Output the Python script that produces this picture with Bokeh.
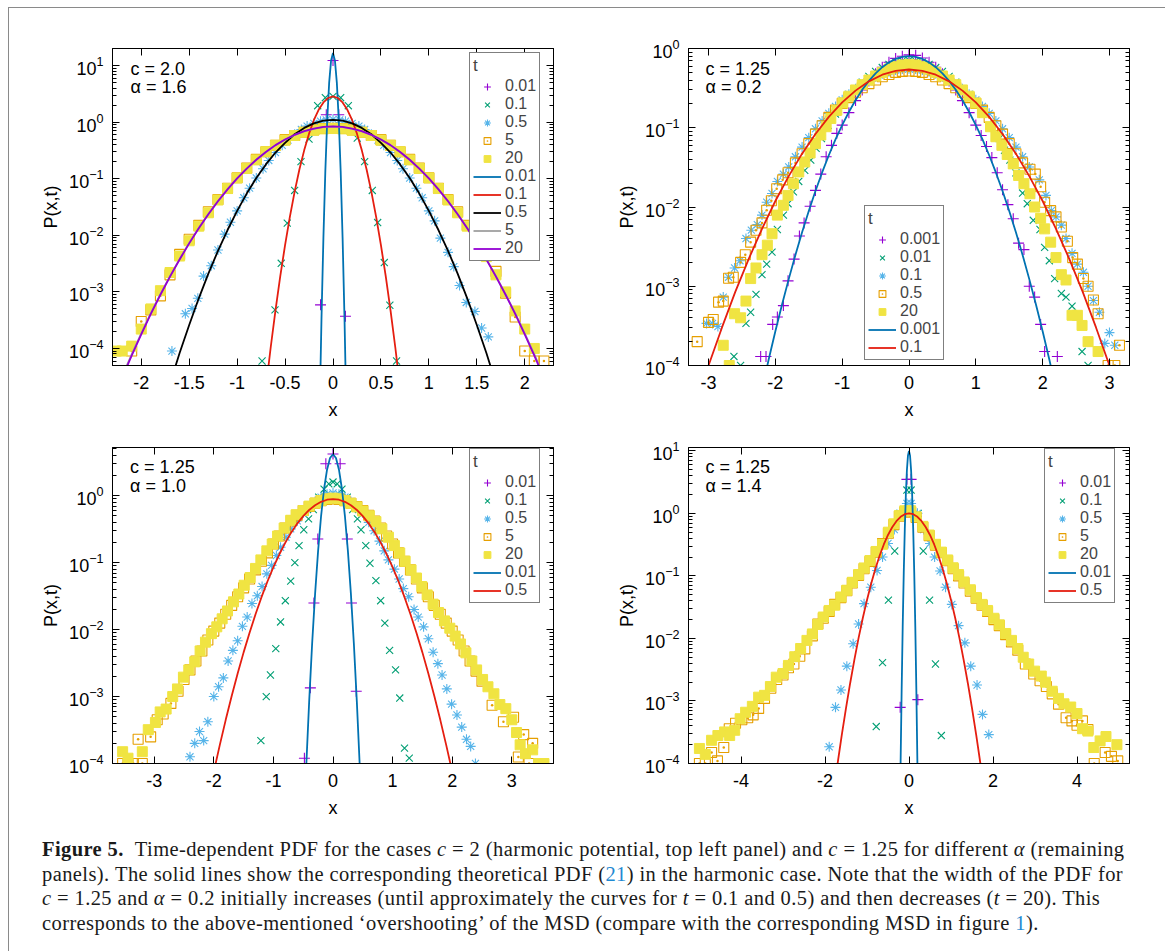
import math
from bokeh.plotting import figure
from bokeh.layouts import column, row
from bokeh.models import (Range1d, FixedTicker, LinearAxis, LogAxis, Legend, LegendItem,
                          Label, Div, CustomJSTickFormatter)
from bokeh.embed import file_html
from bokeh.resources import INLINE

# ---------------------------------------------------------------- tick data
tl_xticks = [-2, -1.5, -1, -0.5, 0, 0.5, 1, 1.5, 2]
tl_xlabels = ["-2", "-1.5", "-1", "-0.5", "0", "0.5", "1", "1.5", "2"]
tr_xticks = [-3, -2, -1, 0, 1, 2, 3]
tr_xlabels = ["-3", "-2", "-1", "0", "1", "2", "3"]
bl_xticks = [-3, -2, -1, 0, 1, 2, 3]
bl_xlabels = ["-3", "-2", "-1", "0", "1", "2", "3"]
br_xticks = [-4, -2, 0, 2, 4]
br_xlabels = ["-4", "-2", "0", "2", "4"]
tl_yticks = [1e-4, 1e-3, 1e-2, 1e-1, 1, 10]
tr_yticks = [1e-4, 1e-3, 1e-2, 1e-1, 1]
bl_yticks = [1e-4, 1e-3, 1e-2, 1e-1, 1]
br_yticks = [1e-4, 1e-3, 1e-2, 1e-1, 1, 10]

# ---------------------------------------------------------------- top left: c = 2.0, alpha = 1.6
tl_t001 = [(-0.13, 5.9e-4), (-0.07, 1.35), (0.0, 12.3), (0.06, 1.35), (0.13, 3.7e-4)]
tl_t01 = [(-0.74, 6.0e-5), (-0.605, 4.8e-4), (-0.54, 3.2e-3), (-0.477, 0.0164), (-0.40, 0.062),
          (-0.334, 0.20), (-0.25, 0.50), (-0.16, 1.95), (-0.08, 2.7), (0.0, 2.85), (0.08, 2.7),
          (0.16, 1.95), (0.253, 0.52), (0.33, 0.20), (0.41, 0.062), (0.466, 0.0168),
          (0.535, 3.3e-3), (0.593, 5.8e-4), (0.663, 6.0e-5)]
tl_t05 = [(-1.68, 9e-5), (-1.54, 4.1e-4), (-1.47, 5.1e-4), (-1.41, 7.7e-4), (-1.35, 1.9e-3),
          (-1.27, 2.9e-3), (-1.20, 5.5e-3), (-1.13, 0.0105), (-1.07, 0.017), (-1.0, 0.027),
          (-0.93, 0.046), (-0.87, 0.068), (-0.8, 0.103), (-0.73, 0.150), (-0.67, 0.21),
          (-0.6, 0.29), (-0.53, 0.39), (-0.47, 0.48), (-0.4, 0.61), (-0.33, 0.74), (-0.27, 0.85),
          (-0.2, 0.95), (-0.13, 1.04), (-0.07, 1.09), (0.0, 1.12), (0.07, 1.09), (0.13, 1.04),
          (0.2, 0.95), (0.27, 0.85), (0.33, 0.74), (0.4, 0.61), (0.47, 0.48), (0.53, 0.39),
          (0.6, 0.29), (0.67, 0.21), (0.73, 0.150), (0.8, 0.103), (0.87, 0.068), (0.93, 0.046),
          (1.0, 0.027), (1.06, 0.018), (1.12, 8.9e-3), (1.2, 5.0e-3), (1.26, 2.8e-3),
          (1.32, 1.3e-3), (1.39, 6.5e-4), (1.48, 4.5e-4), (1.55, 2.3e-4), (1.62, 1.6e-4)]
tl_t5 = [(-2.1, 9e-5), (-2.0, 3.0e-4), (-1.9, 4.8e-4), (-1.8, 8.5e-4), (-1.7, 2.0e-3),
         (-1.6, 4.6e-3), (-1.5, 8.5e-3), (-1.4, 0.0150), (-1.3, 0.026), (-1.2, 0.043),
         (-1.1, 0.068), (-1.0, 0.104), (-0.9, 0.154), (-0.8, 0.22), (-0.7, 0.30), (-0.6, 0.39),
         (-0.5, 0.49), (-0.4, 0.58), (-0.3, 0.66), (-0.2, 0.73), (-0.1, 0.77), (0.0, 0.78),
         (0.1, 0.77), (0.2, 0.73), (0.3, 0.66), (0.4, 0.58), (0.5, 0.49), (0.6, 0.39), (0.7, 0.30),
         (0.8, 0.22), (0.9, 0.154), (1.0, 0.104), (1.1, 0.068), (1.2, 0.043), (1.3, 0.026),
         (1.4, 0.0150), (1.5, 8.5e-3), (1.6, 4.4e-3), (1.7, 2.3e-3), (1.8, 9.5e-4), (1.9, 3.6e-4),
         (2.0, 9e-5), (2.1, 6e-5), (2.2, 6e-5)]
tl_t20 = [(-2.26, 9e-5), (-2.2, 9e-5), (-2.1, 1.1e-4), (-2.0, 2.2e-4), (-1.9, 5.0e-4),
          (-1.8, 1.05e-3), (-1.7, 2.2e-3), (-1.6, 4.3e-3), (-1.5, 8.0e-3), (-1.4, 0.0145),
          (-1.3, 0.025), (-1.2, 0.042), (-1.1, 0.067), (-1.0, 0.103), (-0.9, 0.152), (-0.8, 0.215),
          (-0.7, 0.30), (-0.6, 0.39), (-0.5, 0.48), (-0.4, 0.58), (-0.3, 0.66), (-0.2, 0.72),
          (-0.1, 0.76), (0.0, 0.77), (0.1, 0.76), (0.2, 0.72), (0.3, 0.66), (0.4, 0.58), (0.5, 0.48),
          (0.6, 0.39), (0.7, 0.30), (0.8, 0.215), (0.9, 0.152), (1.0, 0.103), (1.1, 0.067),
          (1.2, 0.042), (1.3, 0.025), (1.4, 0.0145), (1.5, 8.0e-3), (1.6, 4.2e-3), (1.7, 2.0e-3),
          (1.8, 1.0e-3), (1.9, 4.6e-4), (2.0, 2.2e-4), (2.1, 1.0e-4)]
tl_f001 = [(-0.14, 6.8e-6), (-0.12, 3.4e-4), (-0.10, 9.1e-3), (-0.08, 0.136), (-0.06, 1.11),
           (-0.04, 4.99), (-0.02, 12.3), (0.0, 16.6), (0.02, 12.3), (0.04, 4.99), (0.06, 1.11),
           (0.08, 0.136), (0.10, 9.1e-3), (0.12, 3.4e-4), (0.14, 6.8e-6)]
tl_f01 = [(-0.7, 2.0e-5), (-0.65, 1.04e-4), (-0.6, 4.7e-4), (-0.55, 1.89e-3), (-0.5, 6.7e-3),
          (-0.45, 0.0212), (-0.4, 0.059), (-0.35, 0.147), (-0.3, 0.32), (-0.25, 0.626),
          (-0.2, 1.08), (-0.15, 1.65), (-0.1, 2.23), (-0.05, 2.67), (0.0, 2.84), (0.05, 2.67),
          (0.1, 2.23), (0.15, 1.65), (0.2, 1.08), (0.25, 0.626), (0.3, 0.32), (0.35, 0.147),
          (0.4, 0.059), (0.45, 0.0212), (0.5, 6.7e-3), (0.55, 1.89e-3), (0.6, 4.7e-4),
          (0.65, 1.04e-4), (0.7, 2.0e-5)]
tl_f05 = [(-1.8, 6.7e-6), (-1.7, 2.4e-5), (-1.6, 8.3e-5), (-1.5, 2.6e-4), (-1.4, 7.7e-4),
          (-1.3, 2.1e-3), (-1.2, 5.3e-3), (-1.1, 0.0124), (-1.0, 0.027), (-0.9, 0.0546),
          (-0.8, 0.103), (-0.7, 0.179), (-0.6, 0.29), (-0.5, 0.43), (-0.4, 0.61), (-0.3, 0.79),
          (-0.2, 0.95), (-0.1, 1.06), (0.0, 1.10), (0.1, 1.06), (0.2, 0.95), (0.3, 0.79),
          (0.4, 0.61), (0.5, 0.43), (0.6, 0.29), (0.7, 0.179), (0.8, 0.103), (0.9, 0.0546),
          (1.0, 0.027), (1.1, 0.0124), (1.2, 5.3e-3), (1.3, 2.1e-3), (1.4, 7.7e-4), (1.5, 2.6e-4),
          (1.6, 8.3e-5), (1.7, 2.4e-5), (1.8, 6.7e-6)]
tl_f5 = [(-2.3, 1.3e-5), (-2.2, 3.2e-5), (-2.1, 7.9e-5), (-2.0, 1.85e-4), (-1.9, 4.2e-4),
         (-1.8, 9.1e-4), (-1.7, 1.9e-3), (-1.6, 3.8e-3), (-1.5, 7.3e-3), (-1.4, 0.0135),
         (-1.3, 0.0238), (-1.2, 0.0402), (-1.1, 0.0652), (-1.0, 0.101), (-0.9, 0.151),
         (-0.8, 0.216), (-0.7, 0.296), (-0.6, 0.39), (-0.5, 0.49), (-0.4, 0.593), (-0.3, 0.686),
         (-0.2, 0.762), (-0.1, 0.813), (0.0, 0.83), (0.1, 0.813), (0.2, 0.762), (0.3, 0.686),
         (0.4, 0.593), (0.5, 0.49), (0.6, 0.39), (0.7, 0.296), (0.8, 0.216), (0.9, 0.151),
         (1.0, 0.101), (1.1, 0.0652), (1.2, 0.0402), (1.3, 0.0238), (1.4, 0.0135), (1.5, 7.3e-3),
         (1.6, 3.8e-3), (1.7, 1.9e-3), (1.8, 9.1e-4), (1.9, 4.2e-4), (2.0, 1.85e-4),
         (2.1, 7.9e-5), (2.2, 3.2e-5), (2.3, 1.3e-5)]
tl_f20 = [(-2.3, 1.17e-5), (-2.2, 3.0e-5), (-2.1, 7.5e-5), (-2.0, 1.78e-4), (-1.9, 4.1e-4),
          (-1.8, 8.9e-4), (-1.7, 1.86e-3), (-1.6, 3.74e-3), (-1.5, 7.2e-3), (-1.4, 0.0133),
          (-1.3, 0.0236), (-1.2, 0.0399), (-1.1, 0.0649), (-1.0, 0.101), (-0.9, 0.151),
          (-0.8, 0.216), (-0.7, 0.297), (-0.6, 0.392), (-0.5, 0.493), (-0.4, 0.597), (-0.3, 0.692),
          (-0.2, 0.769), (-0.1, 0.821), (0.0, 0.838), (0.1, 0.821), (0.2, 0.769), (0.3, 0.692),
          (0.4, 0.597), (0.5, 0.493), (0.6, 0.392), (0.7, 0.297), (0.8, 0.216), (0.9, 0.151),
          (1.0, 0.101), (1.1, 0.0649), (1.2, 0.0399), (1.3, 0.0236), (1.4, 0.0133), (1.5, 7.2e-3),
          (1.6, 3.74e-3), (1.7, 1.86e-3), (1.8, 8.9e-4), (1.9, 4.1e-4), (2.0, 1.78e-4),
          (2.1, 7.5e-5), (2.2, 3.0e-5), (2.3, 1.17e-5)]

# ---------------------------------------------------------------- top right: c = 1.25, alpha = 0.2
tr_t0001 = [(-2.22, 1.3e-4), (-2.14, 1.3e-4), (-2.04, 3.3e-4), (-1.97, 4.1e-4), (-1.88, 5.7e-4),
            (-1.81, 1.17e-3), (-1.72, 2.2e-3), (-1.64, 4.3e-3), (-1.57, 6.3e-3), (-1.48, 0.0102),
            (-1.40, 0.0162), (-1.32, 0.026), (-1.24, 0.043), (-1.16, 0.060), (-1.08, 0.085),
            (-1.0, 0.108), (-0.9, 0.155), (-0.8, 0.22), (-0.7, 0.30), (-0.6, 0.39), (-0.5, 0.48),
            (-0.4, 0.58), (-0.3, 0.67), (-0.2, 0.75), (-0.1, 0.80), (0.0, 0.83), (0.1, 0.82),
            (0.2, 0.76), (0.3, 0.67), (0.4, 0.58), (0.5, 0.48), (0.6, 0.39), (0.7, 0.30),
            (0.8, 0.22), (0.9, 0.155), (1.0, 0.108), (1.08, 0.080), (1.16, 0.058), (1.24, 0.042),
            (1.32, 0.027), (1.40, 0.0165), (1.48, 0.0107), (1.56, 7.1e-3), (1.64, 3.5e-3),
            (1.72, 2.9e-3), (1.80, 1.0e-3), (1.88, 7.3e-4), (1.97, 3.3e-4), (2.03, 1.5e-4),
            (2.22, 1.3e-4)]
tr_t001 = [(-2.62, 1.3e-4), (-2.52, 1.0e-4), (-2.44, 3.4e-4), (-2.37, 4.7e-4), (-2.29, 7.9e-4),
           (-2.20, 1.4e-3), (-2.13, 1.9e-3), (-2.05, 2.7e-3), (-1.97, 5.2e-3), (-1.88, 7.9e-3),
           (-1.81, 0.011), (-1.73, 0.0155), (-1.65, 0.021), (-1.56, 0.029), (-1.47, 0.039),
           (-1.39, 0.055), (-1.31, 0.073), (-1.21, 0.107), (-1.1, 0.149), (-1.0, 0.195),
           (-0.9, 0.249), (-0.8, 0.31), (-0.7, 0.377), (-0.6, 0.445), (-0.5, 0.513), (-0.4, 0.575),
           (-0.3, 0.63), (-0.2, 0.673), (-0.1, 0.698), (0.0, 0.71), (0.1, 0.698), (0.2, 0.673),
           (0.3, 0.63), (0.4, 0.575), (0.5, 0.513), (0.6, 0.445), (0.7, 0.377), (0.8, 0.31),
           (0.9, 0.249), (1.0, 0.195), (1.1, 0.149), (1.2, 0.107), (1.35, 0.073), (1.43, 0.052),
           (1.51, 0.039), (1.60, 0.027), (1.70, 0.015), (1.77, 0.011), (1.86, 6.8e-3),
           (1.96, 5.2e-3), (2.03, 3.1e-3), (2.10, 2.1e-3), (2.18, 1.25e-3), (2.28, 8.1e-4),
           (2.35, 7.3e-4), (2.44, 5.6e-4), (2.59, 1.5e-4), (2.68, 1.0e-4)]
tr_t01 = [(-3.03, 3.4e-4), (-2.94, 3.4e-4), (-2.86, 3.1e-4), (-2.78, 7.3e-4), (-2.70, 1.3e-3),
          (-2.61, 1.7e-3), (-2.53, 2.1e-3), (-2.44, 4.0e-3), (-2.36, 5.1e-3), (-2.27, 6.0e-3),
          (-2.20, 7.9e-3), (-2.13, 0.0115), (-2.05, 0.0148), (-1.97, 0.021), (-1.88, 0.026),
          (-1.8, 0.032), (-1.7, 0.043), (-1.6, 0.057), (-1.5, 0.075), (-1.4, 0.097), (-1.3, 0.122),
          (-1.2, 0.152), (-1.1, 0.186), (-1.0, 0.225), (-0.9, 0.265), (-0.8, 0.31), (-0.7, 0.355),
          (-0.6, 0.40), (-0.5, 0.44), (-0.4, 0.48), (-0.3, 0.51), (-0.2, 0.535), (-0.1, 0.55),
          (0.0, 0.555), (0.1, 0.55), (0.2, 0.535), (0.3, 0.51), (0.4, 0.48), (0.5, 0.44),
          (0.6, 0.40), (0.7, 0.355), (0.8, 0.31), (0.9, 0.265), (1.0, 0.225), (1.1, 0.186),
          (1.2, 0.152), (1.3, 0.122), (1.4, 0.097), (1.5, 0.075), (1.6, 0.057), (1.7, 0.043),
          (1.8, 0.032), (1.95, 0.022), (2.05, 0.014), (2.13, 9.0e-3), (2.20, 7.5e-3),
          (2.28, 5.9e-3), (2.35, 4.0e-3), (2.44, 2.6e-3), (2.52, 1.9e-3), (2.61, 1.5e-3),
          (2.68, 1.0e-3), (2.76, 6.6e-4), (2.85, 4.7e-4), (2.93, 1.9e-4), (3.0, 2.6e-4),
          (3.08, 1.8e-4)]
tr_t05 = [(-3.17, 2.0e-4), (-3.0, 3.5e-4), (-2.93, 3.8e-4), (-2.85, 6.3e-4), (-2.78, 6.5e-4),
          (-2.70, 1.26e-3), (-2.63, 1.3e-3), (-2.52, 2.0e-3), (-2.45, 2.5e-3), (-2.37, 3.6e-3),
          (-2.29, 5.1e-3), (-2.20, 6.3e-3), (-2.13, 9.1e-3), (-2.06, 0.012), (-1.98, 0.017),
          (-1.89, 0.022), (-1.81, 0.027), (-1.7, 0.036), (-1.6, 0.047), (-1.5, 0.063),
          (-1.4, 0.083), (-1.3, 0.106), (-1.2, 0.135), (-1.1, 0.167), (-1.0, 0.203), (-0.9, 0.24),
          (-0.8, 0.28), (-0.7, 0.32), (-0.6, 0.36), (-0.5, 0.40), (-0.4, 0.44), (-0.3, 0.47),
          (-0.2, 0.50), (-0.1, 0.515), (0.0, 0.52), (0.1, 0.515), (0.2, 0.50), (0.3, 0.47),
          (0.4, 0.44), (0.5, 0.40), (0.6, 0.36), (0.7, 0.32), (0.8, 0.28), (0.9, 0.24),
          (1.0, 0.203), (1.1, 0.167), (1.2, 0.135), (1.3, 0.106), (1.4, 0.083), (1.5, 0.063),
          (1.6, 0.047), (1.7, 0.036), (1.81, 0.030), (1.89, 0.026), (1.97, 0.018), (2.03, 0.0115),
          (2.12, 9.0e-3), (2.20, 7.5e-3), (2.28, 5.6e-3), (2.37, 3.7e-3), (2.45, 2.3e-3),
          (2.52, 1.9e-3), (2.61, 1.25e-3), (2.68, 1.0e-3), (2.76, 6.7e-4), (2.83, 4.5e-4),
          (2.98, 1.0e-4), (3.08, 1.0e-4), (3.15, 1.8e-4)]
tr_t20 = [(-2.78, 1.8e-4), (-2.69, 1.0e-4), (-2.61, 4.5e-4), (-2.52, 4.0e-4), (-2.44, 6.5e-4),
          (-2.37, 1.25e-3), (-2.29, 1.7e-3), (-2.20, 2.5e-3), (-2.12, 3.3e-3), (-2.05, 4.6e-3),
          (-1.97, 7.9e-3), (-1.88, 0.0105), (-1.81, 0.014), (-1.73, 0.0196), (-1.65, 0.0277),
          (-1.56, 0.037), (-1.48, 0.048), (-1.40, 0.063), (-1.32, 0.081), (-1.24, 0.103),
          (-1.17, 0.131), (-1.08, 0.166), (-0.99, 0.206), (-0.9, 0.25), (-0.8, 0.30), (-0.7, 0.35),
          (-0.6, 0.40), (-0.5, 0.45), (-0.4, 0.50), (-0.3, 0.55), (-0.2, 0.59), (-0.1, 0.62),
          (0.0, 0.63), (0.1, 0.62), (0.2, 0.59), (0.3, 0.55), (0.4, 0.50), (0.5, 0.45),
          (0.6, 0.40), (0.7, 0.35), (0.8, 0.30), (0.9, 0.25), (1.0, 0.205), (1.1, 0.155),
          (1.22, 0.103), (1.3, 0.077), (1.39, 0.060), (1.47, 0.046), (1.56, 0.035), (1.64, 0.025),
          (1.72, 0.0197), (1.81, 0.0147), (1.88, 0.010), (1.97, 7.2e-3), (2.03, 5.3e-3),
          (2.12, 3.6e-3), (2.20, 2.3e-3), (2.28, 1.4e-3), (2.35, 1.2e-3), (2.44, 4.3e-4),
          (2.52, 4.3e-4), (2.59, 3.2e-4), (2.68, 2.0e-4), (2.83, 1.5e-4)]
tr_f0001 = [(-2.2, 5.0e-5), (-2.1, 1.19e-4), (-2.0, 2.7e-4), (-1.9, 5.9e-4), (-1.8, 1.23e-3),
            (-1.7, 2.48e-3), (-1.6, 4.8e-3), (-1.5, 8.9e-3), (-1.4, 0.0159), (-1.3, 0.0273),
            (-1.2, 0.045), (-1.1, 0.0713), (-1.0, 0.108), (-0.9, 0.158), (-0.8, 0.222),
            (-0.7, 0.301), (-0.6, 0.390), (-0.5, 0.485), (-0.4, 0.581), (-0.3, 0.668),
            (-0.2, 0.738), (-0.1, 0.783), (0.0, 0.80), (0.1, 0.783), (0.2, 0.738), (0.3, 0.668),
            (0.4, 0.581), (0.5, 0.485), (0.6, 0.390), (0.7, 0.301), (0.8, 0.222), (0.9, 0.158),
            (1.0, 0.108), (1.1, 0.0713), (1.2, 0.045), (1.3, 0.0273), (1.4, 0.0159), (1.5, 8.9e-3),
            (1.6, 4.8e-3), (1.7, 2.48e-3), (1.8, 1.23e-3), (1.9, 5.9e-4), (2.0, 2.7e-4),
            (2.1, 1.19e-4), (2.2, 5.0e-5)]
tr_f01 = [(-3.2, 3.1e-5), (-3.0, 1.0e-4), (-2.8, 3.0e-4), (-2.6, 8.5e-4), (-2.4, 2.2e-3),
          (-2.2, 5.3e-3), (-2.0, 0.0119), (-1.8, 0.0245), (-1.6, 0.0471), (-1.4, 0.0835),
          (-1.2, 0.137), (-1.0, 0.209), (-0.8, 0.294), (-0.6, 0.385), (-0.4, 0.467), (-0.2, 0.523),
          (0.0, 0.543), (0.2, 0.523), (0.4, 0.467), (0.6, 0.385), (0.8, 0.294), (1.0, 0.209),
          (1.2, 0.137), (1.4, 0.0835), (1.6, 0.0471), (1.8, 0.0245), (2.0, 0.0119), (2.2, 5.3e-3),
          (2.4, 2.2e-3), (2.6, 8.5e-4), (2.8, 3.0e-4), (3.0, 1.0e-4), (3.2, 3.1e-5)]

# ---------------------------------------------------------------- bottom left: c = 1.25, alpha = 1.0
bl_t001 = [(-0.48, 1.2e-4), (-0.38, 1.35e-3), (-0.32, 0.025), (-0.255, 0.226), (-0.12, 3.0),
           (0.0, 4.2), (0.12, 3.0), (0.24, 0.226), (0.31, 0.025), (0.39, 1.2e-3)]
bl_t01 = [(-1.21, 2.2e-4), (-1.12, 1.0e-3), (-1.05, 2.1e-3), (-0.96, 5.2e-3), (-0.88, 0.013),
          (-0.80, 0.027), (-0.71, 0.053), (-0.64, 0.10), (-0.57, 0.18), (-0.49, 0.31),
          (-0.41, 0.45), (-0.33, 0.62), (-0.24, 0.95), (-0.15, 1.25), (-0.07, 1.5), (0.0, 1.6),
          (0.07, 1.5), (0.15, 1.25), (0.24, 0.95), (0.33, 0.62), (0.41, 0.45), (0.47, 0.31),
          (0.55, 0.18), (0.62, 0.098), (0.72, 0.054), (0.80, 0.027), (0.87, 0.0125),
          (0.95, 4.9e-3), (1.05, 2.5e-3), (1.12, 9.5e-4), (1.20, 1.7e-4), (1.28, 1.2e-4)]
bl_t05 = [(-2.4, 1.26e-4), (-2.32, 2.0e-4), (-2.24, 3.0e-4), (-2.17, 2.2e-4), (-2.1, 4.2e-4),
          (-2.0, 1.0e-3), (-1.92, 1.4e-3), (-1.84, 1.9e-3), (-1.76, 3.4e-3), (-1.68, 4.9e-3),
          (-1.6, 6.8e-3), (-1.52, 0.0112), (-1.44, 0.0154), (-1.36, 0.0245), (-1.27, 0.032),
          (-1.19, 0.044), (-1.11, 0.068), (-1.03, 0.091), (-0.95, 0.128), (-0.88, 0.17),
          (-0.79, 0.24), (-0.71, 0.32), (-0.6, 0.42), (-0.5, 0.55), (-0.4, 0.68), (-0.3, 0.82),
          (-0.2, 0.95), (-0.1, 1.05), (0.0, 1.1), (0.1, 1.05), (0.2, 0.95), (0.3, 0.82),
          (0.4, 0.68), (0.5, 0.55), (0.6, 0.40), (0.69, 0.30), (0.78, 0.21), (0.86, 0.15),
          (0.93, 0.11), (1.03, 0.08), (1.11, 0.057), (1.18, 0.041), (1.27, 0.031), (1.36, 0.020),
          (1.43, 0.0154), (1.52, 0.011), (1.6, 7.3e-3), (1.68, 4.6e-3), (1.76, 3.1e-3),
          (1.83, 2.1e-3), (1.91, 1.3e-3), (1.99, 7.7e-4), (2.08, 5.3e-4), (2.16, 3.5e-4),
          (2.24, 2.3e-4), (2.31, 1.8e-4), (2.39, 1.0e-4)]
bl_t5 = [(-3.53, 1.0e-4), (-3.44, 1.0e-4), (-3.35, 1.0e-4), (-3.27, 2.3e-4), (-3.2, 1.0e-4),
         (-3.06, 2.5e-4), (-2.95, 4.5e-4), (-2.85, 5.5e-4), (-2.72, 7.9e-4), (-2.6, 1.2e-3),
         (-2.5, 1.8e-3), (-2.4, 2.5e-3), (-2.3, 3.4e-3), (-2.2, 4.8e-3), (-2.1, 7.0e-3),
         (-2.0, 9.5e-3), (-1.9, 0.0125), (-1.8, 0.017), (-1.7, 0.023), (-1.6, 0.031),
         (-1.5, 0.042), (-1.4, 0.057), (-1.3, 0.078), (-1.2, 0.105), (-1.1, 0.14), (-1.0, 0.19),
         (-0.9, 0.25), (-0.8, 0.33), (-0.7, 0.42), (-0.6, 0.51), (-0.5, 0.6), (-0.4, 0.69),
         (-0.3, 0.77), (-0.2, 0.84), (-0.1, 0.88), (0.0, 0.9), (0.1, 0.88), (0.2, 0.84),
         (0.3, 0.77), (0.4, 0.69), (0.5, 0.6), (0.6, 0.51), (0.7, 0.42), (0.8, 0.33), (0.9, 0.25),
         (1.0, 0.19), (1.1, 0.14), (1.2, 0.105), (1.3, 0.078), (1.4, 0.057), (1.5, 0.042),
         (1.6, 0.031), (1.7, 0.023), (1.8, 0.017), (1.9, 0.0125), (2.0, 9.5e-3), (2.1, 7.0e-3),
         (2.2, 4.8e-3), (2.3, 3.4e-3), (2.4, 2.4e-3), (2.5, 1.7e-3), (2.67, 7.4e-4),
         (2.86, 4.2e-4), (3.03, 4.9e-4), (3.11, 1.25e-4), (3.2, 2.7e-4), (3.29, 1.0e-4),
         (3.35, 2.0e-4)]
bl_t20 = [(-3.53, 1.5e-4), (-3.44, 1.2e-4), (-3.2, 1.5e-4), (-3.1, 3.2e-4), (-2.98, 4.1e-4),
          (-2.9, 5.9e-4), (-2.8, 6.5e-4), (-2.69, 1.0e-3), (-2.61, 1.3e-3), (-2.51, 1.95e-3),
          (-2.42, 2.5e-3), (-2.32, 3.3e-3), (-2.23, 4.8e-3), (-2.14, 6.5e-3), (-2.04, 8.7e-3),
          (-1.95, 0.011), (-1.86, 0.0145), (-1.77, 0.019), (-1.67, 0.026), (-1.58, 0.034),
          (-1.49, 0.046), (-1.39, 0.06), (-1.3, 0.082), (-1.21, 0.11), (-1.11, 0.15),
          (-1.02, 0.19), (-0.93, 0.25), (-0.82, 0.33), (-0.71, 0.43), (-0.62, 0.52), (-0.5, 0.6),
          (-0.4, 0.7), (-0.3, 0.78), (-0.2, 0.85), (-0.1, 0.9), (0.0, 0.92), (0.1, 0.9),
          (0.2, 0.85), (0.3, 0.77), (0.4, 0.68), (0.5, 0.59), (0.61, 0.5), (0.72, 0.41),
          (0.82, 0.32), (0.93, 0.24), (1.03, 0.18), (1.12, 0.14), (1.21, 0.105), (1.31, 0.078),
          (1.4, 0.059), (1.49, 0.044), (1.58, 0.033), (1.68, 0.024), (1.77, 0.018),
          (1.87, 0.0135), (1.96, 0.0105), (2.05, 8.0e-3), (2.14, 6.1e-3), (2.23, 4.5e-3),
          (2.33, 3.4e-3), (2.41, 2.5e-3), (2.51, 1.8e-3), (2.6, 1.4e-3), (2.7, 1.1e-3),
          (2.8, 7.6e-4), (2.9, 6.6e-4), (3.0, 4.5e-4), (3.08, 2.9e-4), (3.14, 1.9e-4),
          (3.23, 1.4e-4), (3.35, 1.6e-4), (3.45, 1.0e-4), (3.54, 1.0e-4)]
bl_f001 = [(-0.5, 7e-6), (-0.45, 8.7e-5), (-0.4, 8.4e-4), (-0.35, 6.2e-3), (-0.3, 0.0348),
           (-0.25, 0.150), (-0.2, 0.497), (-0.15, 1.26), (-0.1, 2.45), (-0.05, 3.65), (0.0, 4.17),
           (0.05, 3.65), (0.1, 2.45), (0.15, 1.26), (0.2, 0.497), (0.25, 0.150), (0.3, 0.0348),
           (0.35, 6.2e-3), (0.4, 8.4e-4), (0.45, 8.7e-5), (0.5, 7e-6)]
bl_f05 = [(-2.2, 1.05e-5), (-2.1, 2.89e-5), (-2.0, 7.55e-5), (-1.9, 1.88e-4), (-1.8, 4.49e-4),
          (-1.7, 1.02e-3), (-1.6, 2.21e-3), (-1.5, 4.57e-3), (-1.4, 9.0e-3), (-1.3, 0.01697),
          (-1.2, 0.0305), (-1.1, 0.0523), (-1.0, 0.0855), (-0.9, 0.1334), (-0.8, 0.199),
          (-0.7, 0.283), (-0.6, 0.383), (-0.5, 0.496), (-0.4, 0.613), (-0.3, 0.722), (-0.2, 0.811),
          (-0.1, 0.871), (0.0, 0.891), (0.1, 0.871), (0.2, 0.811), (0.3, 0.722), (0.4, 0.613),
          (0.5, 0.496), (0.6, 0.383), (0.7, 0.283), (0.8, 0.199), (0.9, 0.1334), (1.0, 0.0855),
          (1.1, 0.0523), (1.2, 0.0305), (1.3, 0.01697), (1.4, 9.0e-3), (1.5, 4.57e-3),
          (1.6, 2.21e-3), (1.7, 1.02e-3), (1.8, 4.49e-4), (1.9, 1.88e-4), (2.0, 7.55e-5),
          (2.1, 2.89e-5), (2.2, 1.05e-5)]

# ---------------------------------------------------------------- bottom right: c = 1.25, alpha = 1.4
br_t001 = [(-0.21, 7.9e-4), (-0.05, 3.5), (0.05, 3.5), (0.21, 1.05e-3)]
br_t01 = [(-0.78, 3.9e-4), (-0.63, 4.1e-3), (-0.49, 0.041), (-0.34, 0.25), (-0.22, 1.0),
          (-0.05, 2.36), (0.05, 2.36), (0.22, 1.0), (0.34, 0.25), (0.49, 0.041), (0.63, 3.9e-3),
          (0.77, 2.8e-4)]
br_t05 = [(-1.9, 1.85e-4), (-1.75, 7.9e-4), (-1.62, 1.5e-3), (-1.48, 3.6e-3), (-1.33, 8.2e-3),
          (-1.2, 0.017), (-1.07, 0.036), (-0.91, 0.066), (-0.76, 0.122), (-0.63, 0.2),
          (-0.5, 0.33), (-0.35, 0.55), (-0.2, 1.0), (-0.05, 1.44), (0.05, 1.44), (0.2, 1.0),
          (0.35, 0.55), (0.5, 0.33), (0.61, 0.2), (0.74, 0.12), (0.87, 0.066), (1.02, 0.035),
          (1.18, 0.016), (1.33, 8.5e-3), (1.47, 3.6e-3), (1.62, 1.8e-3), (1.75, 6.1e-4),
          (1.9, 2.9e-4)]
br_t5 = [(-4.99, 1.0e-4), (-4.85, 1.0e-4), (-4.7, 1.5e-4), (-4.56, 1.1e-4), (-4.41, 1.8e-4),
         (-4.28, 3.6e-4), (-4.13, 4.4e-4), (-3.98, 5.0e-4), (-3.84, 5.4e-4), (-3.71, 6.0e-4),
         (-3.58, 7.6e-4), (-3.44, 1.1e-3), (-3.29, 1.6e-3), (-3.15, 2.2e-3), (-3.0, 2.6e-3),
         (-2.87, 3.4e-3), (-2.74, 3.9e-3), (-2.6, 5.2e-3), (-2.48, 6.8e-3), (-2.3, 0.011),
         (-2.17, 0.017), (-2.04, 0.021), (-1.9, 0.027), (-1.77, 0.035), (-1.62, 0.045),
         (-1.48, 0.058), (-1.35, 0.077), (-1.2, 0.102), (-1.07, 0.13), (-0.93, 0.17),
         (-0.78, 0.24), (-0.63, 0.33), (-0.49, 0.48), (-0.36, 0.66), (-0.23, 0.9), (-0.1, 1.05),
         (0.04, 1.05), (0.17, 0.86), (0.33, 0.6), (0.48, 0.44), (0.63, 0.31), (0.77, 0.235),
         (0.92, 0.175), (1.05, 0.13), (1.18, 0.1), (1.31, 0.077), (1.46, 0.057), (1.6, 0.044),
         (1.74, 0.034), (1.87, 0.027), (2.02, 0.02), (2.15, 0.016), (2.3, 0.0115), (2.44, 8.8e-3),
         (2.59, 6.5e-3), (2.77, 3.9e-3), (2.97, 2.7e-3), (3.12, 2.1e-3), (3.27, 1.7e-3),
         (3.41, 1.3e-3), (3.56, 8.9e-4), (3.74, 5.4e-4), (3.88, 4.8e-4), (4.0, 4.1e-4),
         (4.13, 4.8e-4), (4.26, 3.5e-4), (4.41, 1.0e-4), (4.67, 1.5e-4), (4.82, 1.3e-4),
         (4.97, 1.1e-4)]
br_t20 = [(-4.99, 1.74e-4), (-4.85, 1.4e-4), (-4.7, 2.35e-4), (-4.55, 2.8e-4), (-4.39, 3.2e-4),
          (-4.27, 2.8e-4), (-4.15, 3.4e-4), (-4.02, 5.2e-4), (-3.89, 6.6e-4), (-3.73, 8.2e-4),
          (-3.58, 1.15e-3), (-3.44, 1.23e-3), (-3.3, 1.7e-3), (-3.16, 2.4e-3), (-3.0, 2.75e-3),
          (-2.87, 3.7e-3), (-2.72, 5.1e-3), (-2.58, 6.9e-3), (-2.43, 9.3e-3), (-2.3, 0.0118),
          (-2.17, 0.0167), (-2.04, 0.022), (-1.9, 0.028), (-1.77, 0.034), (-1.62, 0.046),
          (-1.48, 0.059), (-1.35, 0.079), (-1.2, 0.105), (-1.07, 0.134), (-0.93, 0.176),
          (-0.78, 0.246), (-0.63, 0.32), (-0.49, 0.5), (-0.36, 0.68), (-0.23, 0.92), (-0.1, 1.1),
          (0.04, 1.1), (0.17, 0.88), (0.33, 0.62), (0.48, 0.45), (0.63, 0.32), (0.77, 0.24),
          (0.92, 0.18), (1.05, 0.135), (1.18, 0.105), (1.31, 0.08), (1.46, 0.06), (1.6, 0.045),
          (1.74, 0.035), (1.87, 0.028), (2.02, 0.021), (2.15, 0.0165), (2.3, 0.012),
          (2.44, 9.3e-3), (2.59, 6.9e-3), (2.72, 5.0e-3), (2.85, 3.9e-3), (2.99, 3.0e-3),
          (3.15, 2.5e-3), (3.25, 2.0e-3), (3.41, 1.43e-3), (3.56, 1.1e-3), (3.69, 9.0e-4),
          (3.85, 8.0e-4), (4.0, 6.3e-4), (4.13, 3.6e-4), (4.26, 3.3e-4), (4.4, 1.8e-4),
          (4.55, 2.3e-4), (4.69, 2.7e-4), (4.95, 2.0e-4)]
br_f001 = [(-0.225, 4.7e-6), (-0.2, 1.0e-4), (-0.175, 1.49e-3), (-0.15, 0.0154), (-0.125, 0.111),
           (-0.1, 0.562), (-0.075, 1.98), (-0.05, 4.87), (-0.025, 8.35), (0.0, 10.0),
           (0.025, 8.35), (0.05, 4.87), (0.075, 1.98), (0.1, 0.562), (0.125, 0.111),
           (0.15, 0.0154), (0.175, 1.49e-3), (0.2, 1.0e-4), (0.225, 4.7e-6)]
br_f05 = [(-1.8, 3.3e-5), (-1.7, 1.0e-4), (-1.6, 2.86e-4), (-1.5, 7.7e-4), (-1.4, 1.94e-3),
          (-1.3, 4.58e-3), (-1.2, 0.0102), (-1.1, 0.0212), (-1.0, 0.0413), (-0.9, 0.0757),
          (-0.8, 0.130), (-0.7, 0.210), (-0.6, 0.318), (-0.5, 0.451), (-0.4, 0.600), (-0.3, 0.750),
          (-0.2, 0.880), (-0.1, 0.969), (0.0, 1.0), (0.1, 0.969), (0.2, 0.880), (0.3, 0.750),
          (0.4, 0.600), (0.5, 0.451), (0.6, 0.318), (0.7, 0.210), (0.8, 0.130), (0.9, 0.0757),
          (1.0, 0.0413), (1.1, 0.0212), (1.2, 0.0102), (1.3, 4.58e-3), (1.4, 1.94e-3),
          (1.5, 7.7e-4), (1.6, 2.86e-4), (1.7, 1.0e-4), (1.8, 3.3e-5)]

# ---------------------------------------------------------------- styling
FONT = "Liberation Sans"
FS = "18px"
PURPLE, GREEN, LBLUE = "#9400D3", "#009E73", "#56B4E9"
ORANGE, YELLOW = "#E69F00", "#F0E442"
BLUE, RED, BLACK, GRAY = "#0072B2", "#E51E10", "#000000", "#A0A0A0"

MARKERS = {
    "plus": dict(marker="cross", size=11, line_color=PURPLE, line_width=1.1),
    "x": dict(marker="x", size=10, line_color=GREEN, line_width=1.1),
    "star": dict(marker="asterisk", size=10, line_color=LBLUE, line_width=1.1),
    "boxdot": dict(marker="square_dot", size=10, line_color=ORANGE, fill_color=None, line_width=1.1),
    "box": dict(marker="square", size=10, line_color=YELLOW, fill_color=YELLOW),
}


def xy(pairs):
    return [a for a, _ in pairs], [b for _, b in pairs]


def minor_list(lo_exp, hi_exp):
    return [k * 10.0 ** e for e in range(lo_exp, hi_exp) for k in range(2, 10)]


def style_axis(ax, labels=True):
    ax.major_tick_in = 7
    ax.major_tick_out = 0
    ax.minor_tick_in = 4
    ax.minor_tick_out = 0
    ax.axis_line_color = "black"
    ax.major_tick_line_color = "black"
    ax.minor_tick_line_color = "black"
    ax.major_label_text_font = FONT
    ax.major_label_text_color = "black"
    ax.axis_label_text_font = FONT
    ax.axis_label_text_font_size = FS
    ax.axis_label_text_font_style = "normal"
    ax.axis_label_text_color = "black"
    if labels:
        ax.major_label_text_font_size = FS
    else:
        ax.major_label_text_font_size = "0px"
        ax.major_label_standoff = 0
        ax.formatter = CustomJSTickFormatter(code="return ''")


def make_panel(xr, yr, xticks, xlabels, yticks, border, frame, scatters, lines,
               legend_loc, tag_c, tag_a, tag_off):
    left, right, top, bottom = border
    fw, fh = frame
    p = figure(x_range=Range1d(*xr), y_range=Range1d(*yr), y_axis_type="log",
               frame_width=fw, frame_height=fh,
               min_border_left=left, min_border_right=right,
               min_border_top=top, min_border_bottom=bottom,
               output_backend="svg", toolbar_location=None,
               background_fill_color="white", border_fill_color="white",
               outline_line_color="black", outline_line_width=1)
    p.grid.visible = False
    lo = int(math.floor(math.log10(yr[0])))
    hi = int(math.ceil(math.log10(yr[1])))
    yminor = minor_list(lo, hi)

    xa = p.xaxis[0]
    xa.ticker = FixedTicker(ticks=xticks)
    xa.major_label_overrides = {float(t): s for t, s in zip(xticks, xlabels)}
    xa.axis_label = "x"
    style_axis(xa)
    xa.minor_tick_line_color = None
    xa.major_label_standoff = 10
    xa.axis_label_standoff = 8

    ya = p.yaxis[0]
    ya.ticker = FixedTicker(ticks=yticks, minor_ticks=yminor)
    ya.axis_label = "P(x,t)"
    style_axis(ya)
    ya.major_label_standoff = 9
    ya.axis_label_standoff = 5

    top_ax = LinearAxis(ticker=FixedTicker(ticks=xticks))
    style_axis(top_ax, labels=False)
    top_ax.minor_tick_line_color = None
    p.add_layout(top_ax, "above")
    right_ax = LogAxis(ticker=FixedTicker(ticks=yticks, minor_ticks=yminor))
    style_axis(right_ax, labels=False)
    p.add_layout(right_ax, "right")

    items = []
    for key, data, label in scatters:
        xs, ys = xy(data)
        r = p.scatter(xs, ys, **MARKERS[key])
        items.append(LegendItem(label=label, renderers=[r]))
    for color, data, label in lines:
        xs, ys = xy(data)
        r = p.line(xs, ys, line_color=color, line_width=1.8)
        items.append(LegendItem(label=label, renderers=[r]))
    leg = Legend(items=items, title="t", location=legend_loc, margin=0,
                 padding=3, spacing=0, label_height=17, glyph_height=17, glyph_width=28,
                 label_standoff=4, title_standoff=1,
                 label_text_font=FONT, label_text_font_size="16px",
                 title_text_font=FONT, title_text_font_size="17px",
                 title_text_font_style="normal",
                 border_line_color="black", border_line_width=1,
                 background_fill_color="white", background_fill_alpha=1.0)
    p.add_layout(leg)

    dx, dy1, dy2 = tag_off
    ly0, ly1 = math.log10(yr[0]), math.log10(yr[1])
    tx = xr[0] + dx / fw * (xr[1] - xr[0])
    for txt, dy in ((tag_c, dy1), (tag_a, dy2)):
        ty = 10 ** (ly1 - dy / fh * (ly1 - ly0))
        p.add_layout(Label(x=tx, y=ty, text=txt, text_font=FONT, text_font_size=FS,
                           text_baseline="middle", text_align="left", text_color="black"))
    return p


pA = make_panel((-2.3, 2.3), (5e-5, 20), tl_xticks, tl_xlabels, tl_yticks,
                (103, 27, 40, 65), (441, 317),
                [("plus", tl_t001, "0.01"), ("x", tl_t01, "0.1"), ("star", tl_t05, "0.5"),
                 ("boxdot", tl_t5, "5"), ("box", tl_t20, "20")],
                [(BLUE, tl_f001, "0.01"), (RED, tl_f01, "0.1"), (BLACK, tl_f05, "0.5"),
                 (GRAY, tl_f5, "5"), (PURPLE, tl_f20, "20")],
                (357, 104), "c = 2.0", "α = 1.6", (18, 20.3, 38.7))

pB = make_panel((-3.3, 3.3), (1e-4, 1.0), tr_xticks, tr_xlabels, tr_yticks,
                (108, 32, 40, 65), (441, 317),
                [("plus", tr_t0001, "0.001"), ("x", tr_t001, "0.01"), ("star", tr_t01, "0.1"),
                 ("boxdot", tr_t05, "0.5"), ("box", tr_t20, "20")],
                [(BLUE, tr_f0001, "0.001"), (RED, tr_f01, "0.1")],
                (176, 5), "c = 1.25", "α = 0.2", (17, 20.3, 38.7))

pC = make_panel((-3.7, 3.7), (1e-4, 5.25), bl_xticks, bl_xlabels, bl_yticks,
                (103, 27, 17, 67), (441, 316),
                [("plus", bl_t001, "0.01"), ("x", bl_t01, "0.1"), ("star", bl_t05, "0.5"),
                 ("boxdot", bl_t5, "5"), ("box", bl_t20, "20")],
                [(BLUE, bl_f001, "0.01"), (RED, bl_f05, "0.5")],
                (357, 160), "c = 1.25", "α = 1.0", (17.6, 19.7, 38))

pD = make_panel((-5.25, 5.25), (1e-4, 11.3), br_xticks, br_xlabels, br_yticks,
                (108, 32, 17, 67), (441, 316),
                [("plus", br_t001, "0.01"), ("x", br_t01, "0.1"), ("star", br_t05, "0.5"),
                 ("boxdot", br_t5, "5"), ("box", br_t20, "20")],
                [(BLUE, br_f001, "0.01"), (RED, br_f05, "0.5")],
                (356, 160), "c = 1.25", "α = 1.4", (17, 19.7, 38))

LINK = "#1f8ad2"
caption_html = (
    '<div style="font-family:\'Liberation Serif\',serif;font-size:20.5px;line-height:24.7px;'
    'letter-spacing:0.4px;color:#1a1a1a;white-space:nowrap;padding:2px 0 0 28px;">'
    '<b>Figure 5.</b>&nbsp;&nbsp;Time-dependent PDF for the cases <i>c</i> = 2 (harmonic potential, '
    'top left panel) and <i>c</i> = 1.25 for different <i>α</i> (remaining<br>'
    'panels). The solid lines show the corresponding theoretical PDF (<span style="color:' + LINK +
    '">21</span>) in the harmonic case. Note that the width of the PDF for<br>'
    '<i>c</i> = 1.25 and <i>α</i> = 0.2 initially increases (until approximately the curves for '
    '<i>t</i> = 0.1 and 0.5) and then decreases (<i>t</i> = 20). This<br>'
    'corresponds to the above-mentioned ‘overshooting’ of the MSD (compare with the corresponding '
    'MSD in figure <span style="color:' + LINK + '">1</span>).'
    '</div>'
)
caption = Div(text=caption_html, width=1152, height=112)

layout = column(row(pA, pB), row(pC, pD), caption,
                styles={"border": "1.5px solid #8a8a8a", "background-color": "white"},
                margin=(7, 0, 0, 8))

with open("out.html", "w") as f:
    f.write(file_html(layout, INLINE))
